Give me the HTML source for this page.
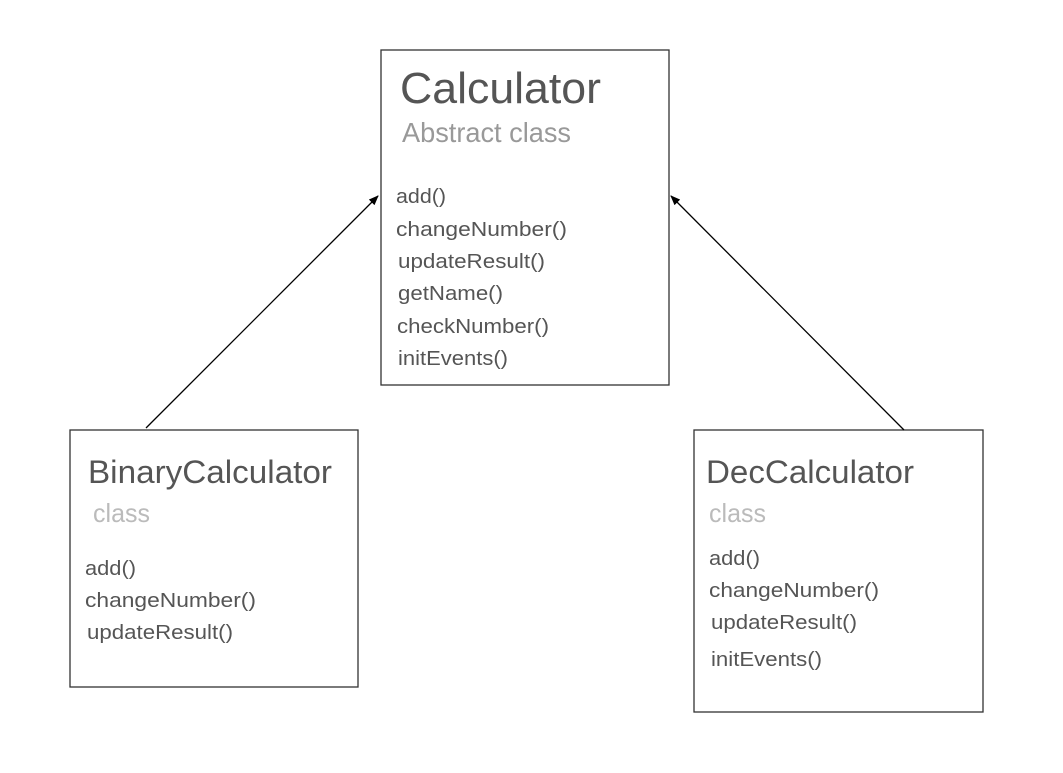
<!DOCTYPE html>
<html><head><style>body{margin:0;background:#fff}svg{display:block}</style></head><body>
<svg width="1063" height="773" xmlns="http://www.w3.org/2000/svg" font-family="Liberation Sans, sans-serif">
<defs><marker id="a" markerWidth="10" markerHeight="8" refX="9" refY="4" orient="auto" markerUnits="userSpaceOnUse"><path d="M0,0 L10,4 L0,8 Z" fill="#000"/></marker></defs>
<g fill="#fff" stroke="#333" stroke-width="1.3">
<rect x="381" y="50" width="288" height="335"/>
<rect x="70" y="430" width="288" height="257"/>
<rect x="694" y="430" width="289" height="282"/>
</g>
<g stroke="#000" stroke-width="1.3">
<line x1="146" y1="428" x2="378" y2="196" marker-end="url(#a)"/>
<line x1="904" y1="430" x2="671" y2="196" marker-end="url(#a)"/>
</g>
<g fill="#555">
<text x="400" y="103" font-size="44" textLength="201" lengthAdjust="spacingAndGlyphs">Calculator</text>
<text x="88" y="483" font-size="32" textLength="244" lengthAdjust="spacingAndGlyphs">BinaryCalculator</text>
<text x="706" y="483" font-size="32" textLength="208" lengthAdjust="spacingAndGlyphs">DecCalculator</text>
</g>
<text x="402" y="142" font-size="28" fill="#999" textLength="169" lengthAdjust="spacingAndGlyphs">Abstract class</text>
<text x="93" y="522" font-size="26" fill="#bbb" textLength="57" lengthAdjust="spacingAndGlyphs">class</text>
<text x="709" y="522" font-size="26" fill="#bbb" textLength="57" lengthAdjust="spacingAndGlyphs">class</text>
<g fill="#555" font-size="20">
<text x="396" y="203" textLength="50" lengthAdjust="spacingAndGlyphs">add()</text>
<text x="396" y="236" textLength="171" lengthAdjust="spacingAndGlyphs">changeNumber()</text>
<text x="398" y="268" textLength="147" lengthAdjust="spacingAndGlyphs">updateResult()</text>
<text x="398" y="300" textLength="105" lengthAdjust="spacingAndGlyphs">getName()</text>
<text x="397" y="333" textLength="152" lengthAdjust="spacingAndGlyphs">checkNumber()</text>
<text x="398" y="365" textLength="110" lengthAdjust="spacingAndGlyphs">initEvents()</text>
<text x="85" y="575" textLength="51" lengthAdjust="spacingAndGlyphs">add()</text>
<text x="85" y="607" textLength="171" lengthAdjust="spacingAndGlyphs">changeNumber()</text>
<text x="87" y="639" textLength="146" lengthAdjust="spacingAndGlyphs">updateResult()</text>
<text x="709" y="565" textLength="51" lengthAdjust="spacingAndGlyphs">add()</text>
<text x="709" y="597" textLength="170" lengthAdjust="spacingAndGlyphs">changeNumber()</text>
<text x="711" y="629" textLength="146" lengthAdjust="spacingAndGlyphs">updateResult()</text>
<text x="711" y="666" textLength="111" lengthAdjust="spacingAndGlyphs">initEvents()</text>
</g>
</svg>
</body></html>
